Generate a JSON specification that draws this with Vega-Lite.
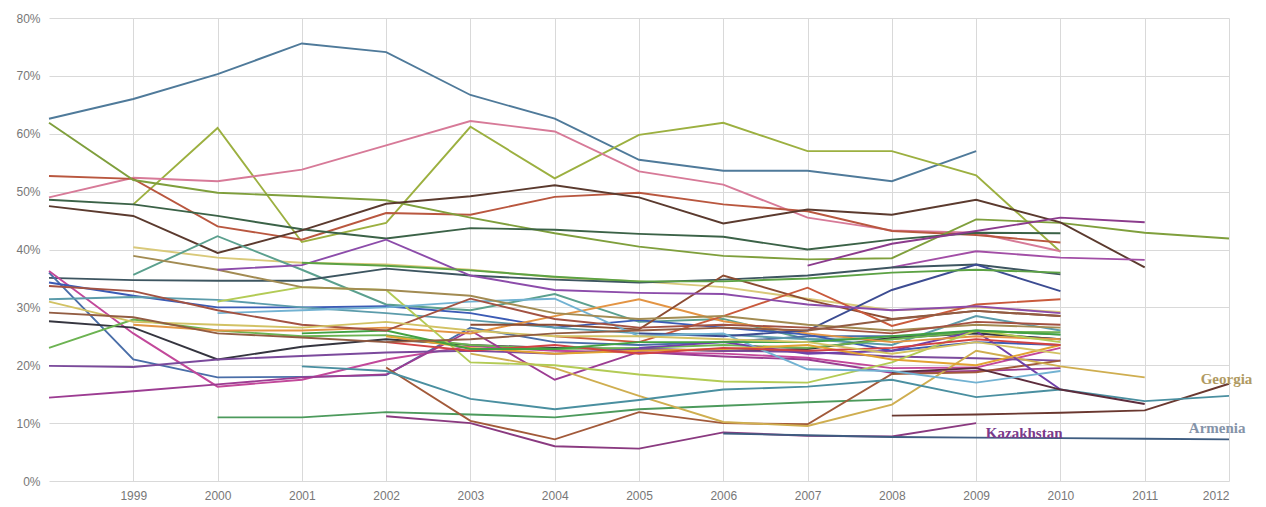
{
"$schema":"https://vega.github.io/schema/vega-lite/v6.json",
"width":1180,"height":463,
"autosize":{"type":"none"},
"padding":{"left":49,"top":18,"right":37,"bottom":26},
"background":"white",
"config":{"view":{"stroke":null},"font":"Liberation Sans"},
"datasets":{
"lines":[
{"s":"s01","x":1998,"y":62.6},{"s":"s01","x":1999,"y":66},{"s":"s01","x":2000,"y":70.3},{"s":"s01","x":2001,"y":75.6},{"s":"s01","x":2002,"y":74.1},{"s":"s01","x":2003,"y":66.7},{"s":"s01","x":2004,"y":62.6},{"s":"s01","x":2005,"y":55.5},{"s":"s01","x":2006,"y":53.6},{"s":"s01","x":2007,"y":53.6},{"s":"s01","x":2008,"y":51.8},{"s":"s01","x":2009,"y":57},
{"s":"s02","x":1999,"y":47.8},{"s":"s02","x":2000,"y":61},{"s":"s02","x":2001,"y":41.3},{"s":"s02","x":2002,"y":44.6},{"s":"s02","x":2003,"y":61.2},{"s":"s02","x":2004,"y":52.3},{"s":"s02","x":2005,"y":59.8},{"s":"s02","x":2006,"y":61.9},{"s":"s02","x":2007,"y":57},{"s":"s02","x":2008,"y":57},{"s":"s02","x":2009,"y":52.8},{"s":"s02","x":2010,"y":39.6},
{"s":"s03","x":1998,"y":49},{"s":"s03","x":1999,"y":52.4},{"s":"s03","x":2000,"y":51.8},{"s":"s03","x":2001,"y":53.8},{"s":"s03","x":2002,"y":58},{"s":"s03","x":2003,"y":62.2},{"s":"s03","x":2004,"y":60.4},{"s":"s03","x":2005,"y":53.5},{"s":"s03","x":2006,"y":51.2},{"s":"s03","x":2007,"y":45.5},{"s":"s03","x":2008,"y":43.3},{"s":"s03","x":2009,"y":42.9},{"s":"s03","x":2010,"y":39.7},
{"s":"s04","x":1998,"y":52.7},{"s":"s04","x":1999,"y":52.2},{"s":"s04","x":2000,"y":44},{"s":"s04","x":2001,"y":41.7},{"s":"s04","x":2002,"y":46.3},{"s":"s04","x":2003,"y":46},{"s":"s04","x":2004,"y":49.1},{"s":"s04","x":2005,"y":49.8},{"s":"s04","x":2006,"y":47.8},{"s":"s04","x":2007,"y":46.6},{"s":"s04","x":2008,"y":43.2},{"s":"s04","x":2009,"y":42.5},{"s":"s04","x":2010,"y":41.2},
{"s":"s05","x":1998,"y":61.9},{"s":"s05","x":1999,"y":52},{"s":"s05","x":2000,"y":49.8},{"s":"s05","x":2001,"y":49.2},{"s":"s05","x":2002,"y":48.5},{"s":"s05","x":2003,"y":45.5},{"s":"s05","x":2004,"y":42.8},{"s":"s05","x":2005,"y":40.5},{"s":"s05","x":2006,"y":38.9},{"s":"s05","x":2007,"y":38.3},{"s":"s05","x":2008,"y":38.5},{"s":"s05","x":2009,"y":45.2},{"s":"s05","x":2010,"y":44.6},{"s":"s05","x":2011,"y":42.9},{"s":"s05","x":2012,"y":41.9},
{"s":"s06","x":1998,"y":48.6},{"s":"s06","x":1999,"y":47.8},{"s":"s06","x":2000,"y":45.8},{"s":"s06","x":2001,"y":43.5},{"s":"s06","x":2002,"y":41.9},{"s":"s06","x":2003,"y":43.7},{"s":"s06","x":2004,"y":43.4},{"s":"s06","x":2005,"y":42.7},{"s":"s06","x":2006,"y":42.2},{"s":"s06","x":2007,"y":40},{"s":"s06","x":2008,"y":41.7},{"s":"s06","x":2009,"y":42.9},{"s":"s06","x":2010,"y":42.8},
{"s":"s07","x":1998,"y":47.5},{"s":"s07","x":1999,"y":45.8},{"s":"s07","x":2000,"y":39.4},{"s":"s07","x":2001,"y":43.3},{"s":"s07","x":2002,"y":47.9},{"s":"s07","x":2003,"y":49.2},{"s":"s07","x":2004,"y":51.1},{"s":"s07","x":2005,"y":49},{"s":"s07","x":2006,"y":44.5},{"s":"s07","x":2007,"y":46.9},{"s":"s07","x":2008,"y":46},{"s":"s07","x":2009,"y":48.6},{"s":"s07","x":2010,"y":44.7},{"s":"s07","x":2011,"y":36.9},
{"s":"s08","x":2007,"y":37.2},{"s":"s08","x":2008,"y":41},{"s":"s08","x":2009,"y":43.2},{"s":"s08","x":2010,"y":45.5},{"s":"s08","x":2011,"y":44.7},
{"s":"s09","x":2008,"y":36.9},{"s":"s09","x":2009,"y":39.7},{"s":"s09","x":2010,"y":38.6},{"s":"s09","x":2011,"y":38.2},
{"s":"s10","x":1999,"y":40.4},{"s":"s10","x":2000,"y":38.6},{"s":"s10","x":2001,"y":37.7},{"s":"s10","x":2002,"y":37.4},{"s":"s10","x":2003,"y":36.5},{"s":"s10","x":2004,"y":35.2},{"s":"s10","x":2005,"y":34.5},{"s":"s10","x":2006,"y":33.5},{"s":"s10","x":2007,"y":31.5},{"s":"s10","x":2008,"y":29.5},{"s":"s10","x":2009,"y":30},{"s":"s10","x":2010,"y":29.2},
{"s":"s11","x":1999,"y":35.6},{"s":"s11","x":2000,"y":42.3},{"s":"s11","x":2001,"y":36.5},{"s":"s11","x":2002,"y":30.5},{"s":"s11","x":2003,"y":29.5},{"s":"s11","x":2004,"y":32.3},{"s":"s11","x":2005,"y":27.5},{"s":"s11","x":2006,"y":28},{"s":"s11","x":2007,"y":24.5},{"s":"s11","x":2008,"y":24.5},{"s":"s11","x":2009,"y":26},{"s":"s11","x":2010,"y":25.3},
{"s":"s12","x":1998,"y":35.1},{"s":"s12","x":1999,"y":34.7},{"s":"s12","x":2000,"y":34.6},{"s":"s12","x":2001,"y":34.6},{"s":"s12","x":2002,"y":36.7},{"s":"s12","x":2003,"y":35.5},{"s":"s12","x":2004,"y":34.8},{"s":"s12","x":2005,"y":34.3},{"s":"s12","x":2006,"y":34.8},{"s":"s12","x":2007,"y":35.5},{"s":"s12","x":2008,"y":36.9},{"s":"s12","x":2009,"y":37.4},{"s":"s12","x":2010,"y":35.7},
{"s":"s13","x":1998,"y":36},{"s":"s13","x":1999,"y":21},{"s":"s13","x":2000,"y":17.9},{"s":"s13","x":2001,"y":18},{"s":"s13","x":2002,"y":18.3},{"s":"s13","x":2003,"y":26.5},{"s":"s13","x":2004,"y":24},{"s":"s13","x":2005,"y":23.5},{"s":"s13","x":2006,"y":24},{"s":"s13","x":2007,"y":25},{"s":"s13","x":2008,"y":25},{"s":"s13","x":2009,"y":25.5},{"s":"s13","x":2010,"y":24.5},
{"s":"s14","x":1998,"y":36.3},{"s":"s14","x":1999,"y":25.5},{"s":"s14","x":2000,"y":16.3},{"s":"s14","x":2001,"y":17.5},{"s":"s14","x":2002,"y":21},{"s":"s14","x":2003,"y":23.3},{"s":"s14","x":2004,"y":22.5},{"s":"s14","x":2005,"y":22.2},{"s":"s14","x":2006,"y":22},{"s":"s14","x":2007,"y":21.3},{"s":"s14","x":2008,"y":19.5},{"s":"s14","x":2009,"y":19.6},{"s":"s14","x":2010,"y":23},
{"s":"s15","x":1998,"y":34.3},{"s":"s15","x":1999,"y":32},{"s":"s15","x":2000,"y":30},{"s":"s15","x":2001,"y":30},{"s":"s15","x":2002,"y":30.2},{"s":"s15","x":2003,"y":29},{"s":"s15","x":2004,"y":26.5},{"s":"s15","x":2005,"y":27.8},{"s":"s15","x":2006,"y":26.5},{"s":"s15","x":2007,"y":25.3},{"s":"s15","x":2008,"y":22.5},{"s":"s15","x":2009,"y":24},{"s":"s15","x":2010,"y":23.5},
{"s":"s16","x":1998,"y":31.4},{"s":"s16","x":1999,"y":31.8},{"s":"s16","x":2000,"y":31.3},{"s":"s16","x":2001,"y":30},{"s":"s16","x":2002,"y":29},{"s":"s16","x":2003,"y":27.8},{"s":"s16","x":2004,"y":26.5},{"s":"s16","x":2005,"y":25.5},{"s":"s16","x":2006,"y":25.3},{"s":"s16","x":2007,"y":24.5},{"s":"s16","x":2008,"y":23.5},{"s":"s16","x":2009,"y":28.5},{"s":"s16","x":2010,"y":26},
{"s":"s17","x":1998,"y":27.6},{"s":"s17","x":1999,"y":26.5},{"s":"s17","x":2000,"y":21},{"s":"s17","x":2001,"y":23.2},{"s":"s17","x":2002,"y":24.5},{"s":"s17","x":2003,"y":23.5},{"s":"s17","x":2004,"y":23},{"s":"s17","x":2005,"y":22.8},{"s":"s17","x":2006,"y":22.5},{"s":"s17","x":2007,"y":22.8},{"s":"s17","x":2008,"y":24.7},{"s":"s17","x":2009,"y":25.5},{"s":"s17","x":2010,"y":24.5},
{"s":"s18","x":1998,"y":23},{"s":"s18","x":1999,"y":27.9},{"s":"s18","x":2000,"y":26},{"s":"s18","x":2001,"y":25},{"s":"s18","x":2002,"y":25.2},{"s":"s18","x":2003,"y":23.5},{"s":"s18","x":2004,"y":22.8},{"s":"s18","x":2005,"y":23},{"s":"s18","x":2006,"y":23.5},{"s":"s18","x":2007,"y":23},{"s":"s18","x":2008,"y":24.5},{"s":"s18","x":2009,"y":25.8},{"s":"s18","x":2010,"y":25.7},
{"s":"s19","x":1998,"y":19.9},{"s":"s19","x":1999,"y":19.7},{"s":"s19","x":2000,"y":21},{"s":"s19","x":2001,"y":21.6},{"s":"s19","x":2002,"y":22.2},{"s":"s19","x":2003,"y":22.5},{"s":"s19","x":2004,"y":22},{"s":"s19","x":2005,"y":22.8},{"s":"s19","x":2006,"y":22.5},{"s":"s19","x":2007,"y":22.3},{"s":"s19","x":2008,"y":21.5},{"s":"s19","x":2009,"y":21.2},{"s":"s19","x":2010,"y":20.8},
{"s":"s20","x":1998,"y":14.4},{"s":"s20","x":1999,"y":15.5},{"s":"s20","x":2000,"y":16.7},{"s":"s20","x":2001,"y":17.9},{"s":"s20","x":2002,"y":18.4},{"s":"s20","x":2003,"y":26},{"s":"s20","x":2004,"y":17.5},{"s":"s20","x":2005,"y":22.3},{"s":"s20","x":2006,"y":21.5},{"s":"s20","x":2007,"y":21},{"s":"s20","x":2008,"y":18.7},{"s":"s20","x":2009,"y":19},{"s":"s20","x":2010,"y":19.5},
{"s":"s21","x":2000,"y":11},{"s":"s21","x":2001,"y":11},{"s":"s21","x":2002,"y":11.9},{"s":"s21","x":2003,"y":11.5},{"s":"s21","x":2004,"y":11},{"s":"s21","x":2005,"y":12.4},{"s":"s21","x":2006,"y":13},{"s":"s21","x":2007,"y":13.6},{"s":"s21","x":2008,"y":14.1},
{"s":"s22","x":2002,"y":11.2},{"s":"s22","x":2003,"y":10},{"s":"s22","x":2004,"y":6},{"s":"s22","x":2005,"y":5.6},{"s":"s22","x":2006,"y":8.4},{"s":"s22","x":2007,"y":7.8},{"s":"s22","x":2008,"y":7.7},{"s":"s22","x":2009,"y":10},
{"s":"s23","x":2006,"y":8.2},{"s":"s23","x":2007,"y":7.9},{"s":"s23","x":2008,"y":7.6},{"s":"s23","x":2009,"y":7.5},{"s":"s23","x":2010,"y":7.4},{"s":"s23","x":2011,"y":7.3},{"s":"s23","x":2012,"y":7.2},
{"s":"s24","x":2002,"y":19.6},{"s":"s24","x":2003,"y":10.4},{"s":"s24","x":2004,"y":7.2},{"s":"s24","x":2005,"y":11.9},{"s":"s24","x":2006,"y":10},{"s":"s24","x":2007,"y":9.8},{"s":"s24","x":2008,"y":18.5},{"s":"s24","x":2009,"y":18.8},{"s":"s24","x":2010,"y":20.8},
{"s":"s25","x":2003,"y":22},{"s":"s25","x":2004,"y":19.5},{"s":"s25","x":2005,"y":14.7},{"s":"s25","x":2006,"y":10.2},{"s":"s25","x":2007,"y":9.5},{"s":"s25","x":2008,"y":13.2},{"s":"s25","x":2009,"y":22.5},{"s":"s25","x":2010,"y":19.8},{"s":"s25","x":2011,"y":17.9},
{"s":"s26","x":2008,"y":11.3},{"s":"s26","x":2009,"y":11.5},{"s":"s26","x":2010,"y":11.8},{"s":"s26","x":2011,"y":12.2},{"s":"s26","x":2012,"y":16.8},
{"s":"s27","x":2001,"y":19.8},{"s":"s27","x":2002,"y":19},{"s":"s27","x":2003,"y":14.2},{"s":"s27","x":2004,"y":12.4},{"s":"s27","x":2005,"y":14},{"s":"s27","x":2006,"y":15.8},{"s":"s27","x":2007,"y":16.3},{"s":"s27","x":2008,"y":17.5},{"s":"s27","x":2009,"y":14.5},{"s":"s27","x":2010,"y":15.8},{"s":"s27","x":2011,"y":13.8},{"s":"s27","x":2012,"y":14.7},
{"s":"s28","x":2005,"y":23},{"s":"s28","x":2006,"y":24},{"s":"s28","x":2007,"y":22},{"s":"s28","x":2008,"y":22.5},{"s":"s28","x":2009,"y":25.9},{"s":"s28","x":2010,"y":15.8},
{"s":"s29","x":2008,"y":18.8},{"s":"s29","x":2009,"y":19.5},{"s":"s29","x":2010,"y":15.8},{"s":"s29","x":2011,"y":13.3},
{"s":"s30","x":1999,"y":27},{"s":"s30","x":2000,"y":26},{"s":"s30","x":2001,"y":26},{"s":"s30","x":2002,"y":26.5},{"s":"s30","x":2003,"y":25.5},{"s":"s30","x":2004,"y":28.5},{"s":"s30","x":2005,"y":31.4},{"s":"s30","x":2006,"y":27.6},{"s":"s30","x":2007,"y":25.5},{"s":"s30","x":2008,"y":24},{"s":"s30","x":2009,"y":25},{"s":"s30","x":2010,"y":24.5},
{"s":"s31","x":2003,"y":27},{"s":"s31","x":2004,"y":27},{"s":"s31","x":2005,"y":26.2},{"s":"s31","x":2006,"y":35.5},{"s":"s31","x":2007,"y":31.3},{"s":"s31","x":2008,"y":28},{"s":"s31","x":2009,"y":29.4},{"s":"s31","x":2010,"y":28.5},
{"s":"s32","x":2004,"y":25},{"s":"s32","x":2005,"y":24},{"s":"s32","x":2006,"y":28.5},{"s":"s32","x":2007,"y":33.4},{"s":"s32","x":2008,"y":26.8},{"s":"s32","x":2009,"y":30.5},{"s":"s32","x":2010,"y":31.4},
{"s":"s33","x":2005,"y":25.5},{"s":"s33","x":2006,"y":25},{"s":"s33","x":2007,"y":26},{"s":"s33","x":2008,"y":33},{"s":"s33","x":2009,"y":37.4},{"s":"s33","x":2010,"y":32.8},
{"s":"s34","x":2000,"y":31},{"s":"s34","x":2001,"y":33.5},{"s":"s34","x":2002,"y":33},{"s":"s34","x":2003,"y":20.5},{"s":"s34","x":2004,"y":20},{"s":"s34","x":2005,"y":18.4},{"s":"s34","x":2006,"y":17.2},{"s":"s34","x":2007,"y":17},{"s":"s34","x":2008,"y":20.5},{"s":"s34","x":2009,"y":26},{"s":"s34","x":2010,"y":24},
{"s":"s35","x":2000,"y":29},{"s":"s35","x":2001,"y":29.5},{"s":"s35","x":2002,"y":30},{"s":"s35","x":2003,"y":31},{"s":"s35","x":2004,"y":31.5},{"s":"s35","x":2005,"y":25},{"s":"s35","x":2006,"y":25.5},{"s":"s35","x":2007,"y":19.3},{"s":"s35","x":2008,"y":19},{"s":"s35","x":2009,"y":17},{"s":"s35","x":2010,"y":19},
{"s":"s36","x":2002,"y":25},{"s":"s36","x":2003,"y":23},{"s":"s36","x":2004,"y":22},{"s":"s36","x":2005,"y":22.5},{"s":"s36","x":2006,"y":22.8},{"s":"s36","x":2007,"y":23.5},{"s":"s36","x":2008,"y":21},{"s":"s36","x":2009,"y":20},{"s":"s36","x":2010,"y":23.5},
{"s":"s37","x":2002,"y":24},{"s":"s37","x":2003,"y":22.5},{"s":"s37","x":2004,"y":23.5},{"s":"s37","x":2005,"y":22},{"s":"s37","x":2006,"y":23},{"s":"s37","x":2007,"y":22.5},{"s":"s37","x":2008,"y":23},{"s":"s37","x":2009,"y":24.5},{"s":"s37","x":2010,"y":23.5},
{"s":"s38","x":2001,"y":25.5},{"s":"s38","x":2002,"y":26},{"s":"s38","x":2003,"y":22.8},{"s":"s38","x":2004,"y":22.8},{"s":"s38","x":2005,"y":24},{"s":"s38","x":2006,"y":24},{"s":"s38","x":2007,"y":24},{"s":"s38","x":2008,"y":25},{"s":"s38","x":2009,"y":26},{"s":"s38","x":2010,"y":25.3},
{"s":"s39","x":1999,"y":38.9},{"s":"s39","x":2000,"y":36.5},{"s":"s39","x":2001,"y":33.5},{"s":"s39","x":2002,"y":33},{"s":"s39","x":2003,"y":32},{"s":"s39","x":2004,"y":29},{"s":"s39","x":2005,"y":28},{"s":"s39","x":2006,"y":28.5},{"s":"s39","x":2007,"y":27},{"s":"s39","x":2008,"y":26},{"s":"s39","x":2009,"y":27},{"s":"s39","x":2010,"y":26.5},
{"s":"s40","x":1998,"y":33.7},{"s":"s40","x":1999,"y":32.8},{"s":"s40","x":2000,"y":29.5},{"s":"s40","x":2001,"y":27},{"s":"s40","x":2002,"y":26},{"s":"s40","x":2003,"y":31.5},{"s":"s40","x":2004,"y":28},{"s":"s40","x":2005,"y":26.5},{"s":"s40","x":2006,"y":27},{"s":"s40","x":2007,"y":26.5},{"s":"s40","x":2008,"y":25.5},{"s":"s40","x":2009,"y":27.5},{"s":"s40","x":2010,"y":27},
{"s":"s41","x":1998,"y":31},{"s":"s41","x":1999,"y":27.5},{"s":"s41","x":2000,"y":27},{"s":"s41","x":2001,"y":26.5},{"s":"s41","x":2002,"y":27.5},{"s":"s41","x":2003,"y":26},{"s":"s41","x":2004,"y":25},{"s":"s41","x":2005,"y":25},{"s":"s41","x":2006,"y":24.5},{"s":"s41","x":2007,"y":24},{"s":"s41","x":2008,"y":22},{"s":"s41","x":2009,"y":24},{"s":"s41","x":2010,"y":22},
{"s":"s42","x":1998,"y":29.1},{"s":"s42","x":1999,"y":28.3},{"s":"s42","x":2000,"y":25.5},{"s":"s42","x":2001,"y":24.8},{"s":"s42","x":2002,"y":24},{"s":"s42","x":2003,"y":24.5},{"s":"s42","x":2004,"y":25.5},{"s":"s42","x":2005,"y":26},{"s":"s42","x":2006,"y":26.5},{"s":"s42","x":2007,"y":26},{"s":"s42","x":2008,"y":27.9},{"s":"s42","x":2009,"y":29.4},{"s":"s42","x":2010,"y":28.5},
{"s":"s43","x":2000,"y":36.5},{"s":"s43","x":2001,"y":37.3},{"s":"s43","x":2002,"y":41.7},{"s":"s43","x":2003,"y":35.5},{"s":"s43","x":2004,"y":33},{"s":"s43","x":2005,"y":32.5},{"s":"s43","x":2006,"y":32.3},{"s":"s43","x":2007,"y":30.5},{"s":"s43","x":2008,"y":29.5},{"s":"s43","x":2009,"y":30.2},{"s":"s43","x":2010,"y":29},
{"s":"s44","x":2001,"y":37.7},{"s":"s44","x":2002,"y":37.2},{"s":"s44","x":2003,"y":36.4},{"s":"s44","x":2004,"y":35.3},{"s":"s44","x":2005,"y":34.5},{"s":"s44","x":2006,"y":34.5},{"s":"s44","x":2007,"y":35},{"s":"s44","x":2008,"y":36},{"s":"s44","x":2009,"y":36.5},{"s":"s44","x":2010,"y":36}
],
"labels":[
{"t":"Georgia","x":2011.97,"y":17.6,"c":"g"},
{"t":"Armenia","x":2011.86,"y":9.1,"c":"a"},
{"t":"Kazakhstan","x":2009.57,"y":8.3,"c":"k"}
]
},
"layer":[
{
"data":{"name":"lines"},
"mark":{"type":"line","strokeWidth":1.9,"interpolate":"linear"},
"encoding":{
"x":{"field":"x","type":"quantitative","scale":{"domain":[1998,2012],"nice":false,"zero":false},
"axis":{"values":[1999,2000,2001,2002,2003,2004,2005,2006,2007,2008,2009,2010,2011,2012],"format":"d","title":null,"domain":false,"ticks":false,"grid":true,"gridColor":"#d9d9d9","gridWidth":1,"labelColor":"#777777","labelFontSize":12,"labelPadding":9}},
"y":{"field":"y","type":"quantitative","scale":{"domain":[0,80],"nice":false},
"axis":{"values":[0,10,20,30,40,50,60,70,80],"labelExpr":"datum.value + '%'","title":null,"domain":false,"ticks":false,"grid":true,"gridColor":"#d9d9d9","gridWidth":1,"labelColor":"#777777","labelFontSize":12,"labelPadding":9}},
"color":{"field":"s","type":"nominal","legend":null,
"scale":{"domain":["s01","s02","s03","s04","s05","s06","s07","s08","s09","s10","s11","s12","s13","s14","s15","s16","s17","s18","s19","s20","s21","s22","s23","s24","s25","s26","s27","s28","s29","s30","s31","s32","s33","s34","s35","s36","s37","s38","s39","s40","s41","s42","s43","s44"],
"range":["#4f7a9a","#9cb040","#d77a98","#b9573f","#7f9f3c","#3b6247","#5b3a2e","#8b3b8c","#a24ea6","#d9c97a","#5ba08e","#3d5560","#4a6ea8","#c2489a","#3b5bb5","#5c9cab","#35353f","#6cb352","#7b4a9c","#9c3c92","#4c9a5c","#8a3a80","#3e5c80","#a25a3a","#cfae50","#6a3830","#4a8fa0","#7040a8","#5c2c3c","#e39443","#8c4c32","#c95a3c","#3c4c92","#b3cb55","#72b2d2","#e2a232","#d24242","#42a242","#a28b52","#a35242","#d2c264","#925c42","#8c4caa","#5ca244"]}},
"detail":{"field":"s"}
}
},
{
"data":{"name":"labels"},
"mark":{"type":"text","font":"Liberation Serif","fontWeight":"bold","fontSize":15,"align":"center","baseline":"middle"},
"encoding":{
"x":{"field":"x","type":"quantitative"},
"y":{"field":"y","type":"quantitative"},
"text":{"field":"t"},
"color":{"field":"c","type":"nominal","legend":null,"scale":{"domain":["g","a","k"],"range":["#b09a62","#8593a8","#7a3a8a"]}}
}
}
],
"resolve":{"scale":{"color":"independent"}}
}
